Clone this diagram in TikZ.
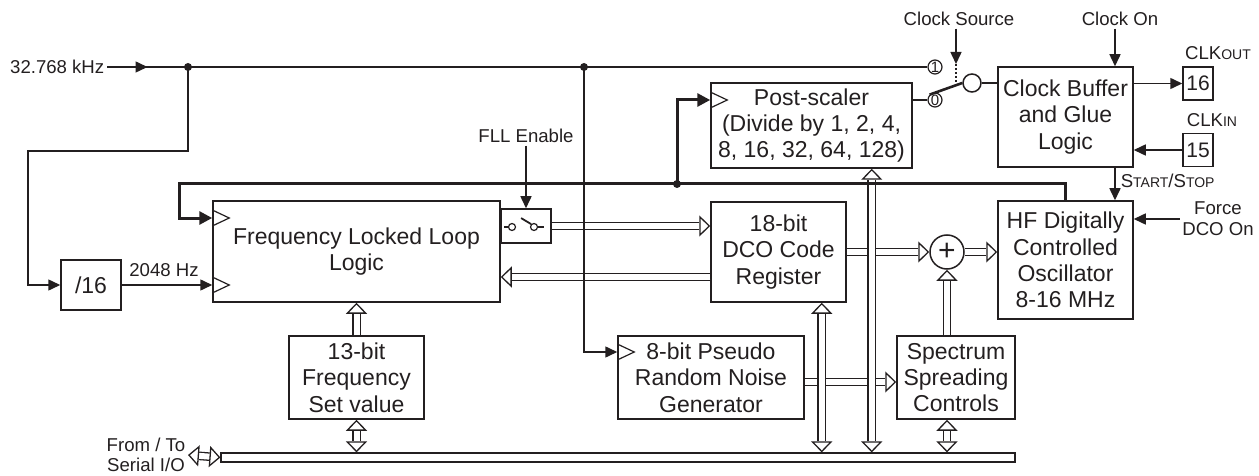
\documentclass[tikz,border=0pt]{standalone}
\usepackage{fontspec}
\setmainfont{Liberation Sans}
\usetikzlibrary{arrows.meta, positioning, decorations.markings}
\definecolor{cline}{HTML}{231F20}
\tikzset{
  every picture/.style={line width=0.75pt, color=cline},
  blk/.style={draw, align=center, inner sep=2pt, font=\fontsize{11.5}{13.2}\selectfont},
  lbl/.style={font=\fontsize{9.3}{10.6}\selectfont, align=center, inner sep=1pt},
  arr/.style={-{Triangle[length=6pt, width=5.5pt]}},
  fb/.style={line width=1.5pt},
  fbarr/.style={fb, -{Triangle[length=6.5pt, width=6.5pt]}},
  dtip/.tip={Triangle[fill=white, color=cline, length=5.5pt, width=10.5pt, line width=0.65pt]},
  dbl/.style={draw=white, line width=3pt},
  dbla/.style={dbl, -dtip, preaction={draw=cline, line width=4.3pt, -, shorten >=5.5pt}},
  dblb/.style={dbl, dtip-dtip, preaction={draw=cline, line width=4.3pt, -, shorten >=5.5pt, shorten <=5.5pt}},
  dot/.style={circle, fill, inner sep=0pt, minimum size=4pt},
  pin/.style={draw, inner sep=0pt, minimum width=15pt, minimum height=16.5pt, font=\fontsize{10.5}{12}\selectfont},
  port/.style={circle, draw, line width=0.6pt, inner sep=0pt, minimum size=7pt, font=\fontsize{7.5}{7.5}\selectfont},
  swc/.style={circle, draw, line width=0.6pt, inner sep=0pt, minimum size=3.5pt},
  midarr/.style={postaction={decorate}, decoration={markings, mark=at position #1 with {\arrow{Triangle[length=6pt, width=5.5pt]}}}},
  clk/.pic={\draw[line width=0.6pt] (0,-8) -- (17,0) -- (0,8);},
}
\newcommand{\smc}[1]{{\fontsize{7}{8}\selectfont #1}}

\begin{document}
\begin{tikzpicture}[x=0.5pt, y=-0.5pt]
  \useasboundingbox (0,0) rectangle (1259,476);
  % blocks
  \node[blk, minimum width=30pt, minimum height=25pt] (div) at (91,285) {/16};
  \node[blk, minimum width=143.5pt, minimum height=50.5pt] (fll) at (356.5,251.5) {Frequency Locked Loop\\Logic};
  \node[blk, minimum width=25pt, minimum height=17pt] (fllsw) at (526,226) {};
  \node[blk, minimum width=100.5pt, minimum height=42.5pt] (post) at (811.5,125.5) {Post-scaler\\(Divide by 1, 2, 4,\\8, 16, 32, 64, 128)};
  \node[blk, minimum width=67.5pt, minimum height=50pt] (dco) at (778.5,252) {18-bit\\DCO Code\\Register};
  \node[blk, minimum width=93pt, minimum height=41.5pt] (prn) at (711,377.5) {8-bit Pseudo\\Random Noise\\Generator};
  \node[blk, minimum width=67.5pt, minimum height=41.5pt] (fset) at (356.5,377.5) {13-bit\\Frequency\\Set value};
  \node[blk, minimum width=59pt, minimum height=41.5pt] (ssc) at (956,377.5) {Spectrum\\Spreading\\Controls};
  \node[blk, minimum width=67.5pt, minimum height=50pt] (cbuf) at (1065.5,117) {Clock Buffer\\and Glue\\Logic};
  \node[blk, minimum width=67.5pt, minimum height=59pt] (hf) at (1065.5,260) {HF Digitally\\Controlled\\Oscillator\\8-16 MHz};
  \node[pin] (p16) at (1198,83.5) {16};
  \node[pin] (p15) at (1198,150) {15};
  \node[circle, draw, minimum size=17pt, inner sep=0pt, font=\fontsize{15}{15}\selectfont] (sum) at (947,252) {+};
  \node[draw, line width=0.6pt, minimum width=397pt, minimum height=4.5pt, inner sep=0pt] (bus) at (618,457.5) {};
  \pic at ([yshift=16.75pt]fll.west) {clk};
  \pic at ([yshift=-16.75pt]fll.west) {clk};
  \pic at ([yshift=12.75pt]post.west) {clk};
  \pic at ([yshift=12.75pt]prn.west) {clk};

  % labels
  \node[lbl, anchor=east] (xin) at (107,67) {32.768 kHz};
  \node[lbl] (l2048) at (164,270) {2048 Hz};
  \node[lbl] (flle) at (526,136) {FLL Enable};
  \node[lbl] (csrc) at (959,19) {Clock Source};
  \node[lbl] (con) at (1120,19) {Clock On};
  \node[lbl] (clkout) at (1218,53) {CLK\smc{OUT}};
  \node[lbl] (clkin) at (1212,120) {CLK\smc{IN}};
  \node[lbl, anchor=west] (sst) at (1118,181) {S\smc{TART}/S\smc{TOP}};
  \node[lbl] (fdco) at (1218,219) {Force\\DCO On};
  \node[lbl, anchor=east, font=\fontsize{9.3}{10.2}\selectfont] (ser) at (188,455) {From / To\\Serial I/O};

  % clock source switch
  \node[port] (c1) at (935,67) {1};
  \node[port] (c0) at (935,100) {0};
  \node[circle, draw, minimum size=9pt, inner sep=0pt] (piv) at (972,83) {};
  \coordinate (swt) at (956,64);
  \coordinate (j1) at (188,67);
  \coordinate (j2) at (584,67);
  \coordinate (j3) at (677,184);
  \coordinate (fbc) at (179,184);
  \coordinate (lp) at (28,151);
  \coordinate (ctl) at ([xshift=24.75pt]cbuf.north);
  \coordinate (cbl) at ([xshift=24.75pt]cbuf.south);
  \coordinate (sx) at (ssc.north -| sum);

  % FLL enable switch
  \node[swc] (swa) at ([xshift=-7pt, yshift=-0.5pt]fllsw.center) {};
  \node[swc] (swb) at ([xshift=4pt, yshift=-0.5pt]fllsw.center) {};
  \draw[line width=0.6pt] (swa.west) -- ++(-4,0);
  \draw[line width=0.6pt] (swb.east) -- ++(6,0);
  \draw[line width=0.9pt] (swb.north west) -- ++(-10,-6);

  % data paths
  \draw[dbla] (fset.north) -- (fll.south);
  \draw[dbla] (fllsw.east) -- (fllsw.east -| dco.west);
  \draw[dbla] ([yshift=-12.5pt]dco.west) -- ([yshift=-12.5pt]dco.west -| fll.east);
  \draw[dbla] (dco.east) -- (sum.west);
  \draw[dbla] (sum.east) -- (sum.east -| hf.west);
  \draw[dbla] (sx) -- (sum.south);
  \draw[dbla] ([yshift=-2.25pt]prn.east) -- ([yshift=-2.25pt]prn.east -| ssc.west);
  \draw[dblb] ([xshift=-12.5pt]dco.south east) -- ([xshift=-12.5pt]dco.south east |- bus.north);
  \draw[dblb] ([xshift=-20.5pt]post.south east) -- ([xshift=-20.5pt]post.south east |- bus.north);
  \draw[dblb] (fset.south) -- (fset.south |- bus.north);
  \draw[dblb] (ssc.south -| sum) -- (sx |- bus.north);
  \draw[dblb] (ser.east) -- (bus.west);

  % clock paths
  \draw[midarr=0.5] (xin.east) -- (j1);
  \draw (j1) -- (j2) -- (c1.west);
  \draw[arr] (j1) |- (lp) |- (div.west);
  \draw[arr] (div.east) -- (div.east -| fll.west);
  \draw[arr] (j2) |- ([yshift=12.75pt]prn.west);
  \draw[fbarr] (hf.north) |- (fbc) |- ([yshift=16.75pt]fll.west);
  \draw[fbarr] (j3) |- ([yshift=12.75pt]post.west);
  \draw[arr] (flle) -- (fllsw);
  \draw (c0.west -| post.east) -- (c0.west);
  \draw[line width=1.3pt] (c0.north west) -- (piv.west);
  \draw[arr] (csrc.south -| swt) -- (swt);
  \draw[densely dotted, line width=1pt] (swt) -- ++(0,21);
  \draw (piv.east) -- (piv.east -| cbuf.west);
  \draw[arr] (con.south -| ctl) -- (ctl);
  \draw[arr] (p16.west -| cbuf.east) -- (p16.west);
  \draw[arr] (p15.west) -- (p15.west -| cbuf.east);
  \draw[arr] (cbl) -- (cbl |- hf.north);
  \draw[arr] (fdco.west) -- (fdco.west -| hf.east);
  \foreach \j in {j1, j2, j3} \node[dot] at (\j) {};
\end{tikzpicture}
\end{document}
